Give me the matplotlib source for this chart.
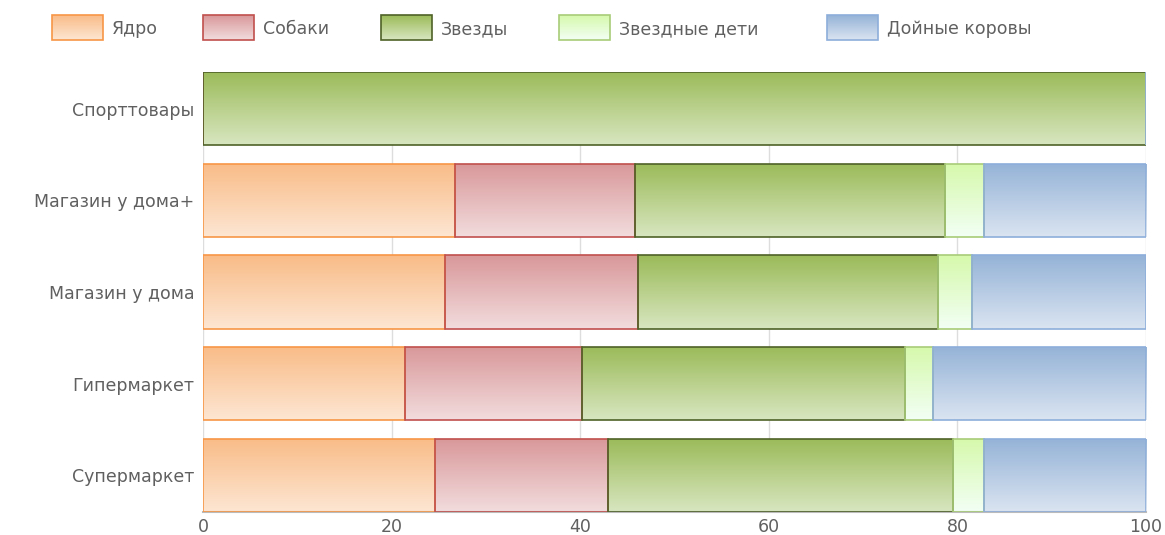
import matplotlib
matplotlib.use("Agg")
import matplotlib.pyplot as plt
import numpy as np
from matplotlib.colors import LinearSegmentedColormap
from matplotlib.patches import Rectangle

plt.rcParams['font.family'] = ['DejaVu Sans']

categories = ["Спорттовары", "Магазин у дома+", "Магазин у дома", "Гипермаркет", "Супермаркет"]
series_names = ["Ядро", "Собаки", "Звезды", "Звездные дети", "Дойные коровы"]
yadro = [0, 26.7, 25.7, 21.4, 24.6]
sobaki = [0, 19.1, 20.4, 18.8, 18.4]
zvezdy = [100, 32.9, 31.8, 34.2, 36.5]
zv_deti = [0, 4.1, 3.7, 3.0, 3.3]
korovy = [0, 17.2, 18.4, 22.6, 17.2]
series = [yadro, sobaki, zvezdy, zv_deti, korovy]
xticks = [0, 20, 40, 60, 80, 100]

tops = ["#F9BC88", "#D9989A", "#9BBB59", "#D6F9AC", "#95B3D7"]
bottoms = ["#FDE6D2", "#F2DCDD", "#D8E6C0", "#F2FFF4", "#DAE4F1"]
edges = ["#F79646", "#C0504D", "#4F6228", "#A8CC78", "#8EAEDA"]
TXT = "#606060"
FS = 12.5

W, H = 1165, 535
fig = plt.figure(figsize=(W / 100, H / 100), dpi=100)
ax = fig.add_axes([203 / W, 23 / H, 943 / W, 440 / H])

grad = np.linspace(0, 1, 64).reshape(-1, 1)
cmaps = [LinearSegmentedColormap.from_list("g%d" % i, [tops[i], bottoms[i]]) for i in range(5)]

y = np.arange(len(categories))
left = np.zeros(len(categories))
for i, vals in enumerate(series):
    vals = np.array(vals, dtype=float)
    bars = ax.barh(y, vals, left=left, height=0.8, color="none",
                   edgecolor=edges[i], linewidth=1.2, zorder=3)
    for b, v in zip(bars, vals):
        if v <= 0:
            continue
        x0, yb = b.get_x(), b.get_y()
        w, h = b.get_width(), b.get_height()
        im = ax.imshow(grad, cmap=cmaps[i], aspect="auto",
                       extent=[x0, x0 + w, yb + h, yb], origin="upper",
                       zorder=2, interpolation="bilinear")
        im.set_clip_path(b)
    left += vals

ax.set_xlim(0, 100)
ax.set_ylim(len(categories) - 0.6, -0.4)
ax.set_yticks(y)
ax.set_yticklabels(categories)
ax.set_xticks(xticks)
ax.set_xticklabels([str(t) for t in xticks])
ax.tick_params(axis="both", length=0, labelsize=FS, labelcolor=TXT)
ax.tick_params(axis="y", pad=6)
ax.tick_params(axis="x", pad=4)
for s in ["top", "right", "left"]:
    ax.spines[s].set_visible(False)
ax.spines["bottom"].set_color("#BBBBBB")
ax.spines["bottom"].set_linewidth(1.5)
ax.grid(axis="x", color="#DDDDDD", linewidth=1, zorder=0)
ax.set_axisbelow(True)

# legend drawn in pixel coordinates
lax = fig.add_axes([0, 0, 1, 1], zorder=5)
lax.set_xlim(0, W)
lax.set_ylim(H, 0)
lax.axis("off")
leg_x = [52, 203, 381, 559, 827]
for i, name in enumerate(series_names):
    x0 = leg_x[i]
    r = Rectangle((x0, 15), 51, 25, facecolor="none", edgecolor=edges[i], linewidth=1.2, zorder=3)
    lax.add_patch(r)
    im = lax.imshow(grad, cmap=cmaps[i], aspect="auto", extent=[x0, x0 + 51, 40, 15],
                    origin="upper", zorder=2, interpolation="bilinear")
    im.set_clip_path(r)
    lax.text(x0 + 60, 29, name, fontsize=FS, color=TXT, va="center", ha="left")
lax.set_xlim(0, W)
lax.set_ylim(H, 0)

fig.savefig("out.png", dpi=100)
